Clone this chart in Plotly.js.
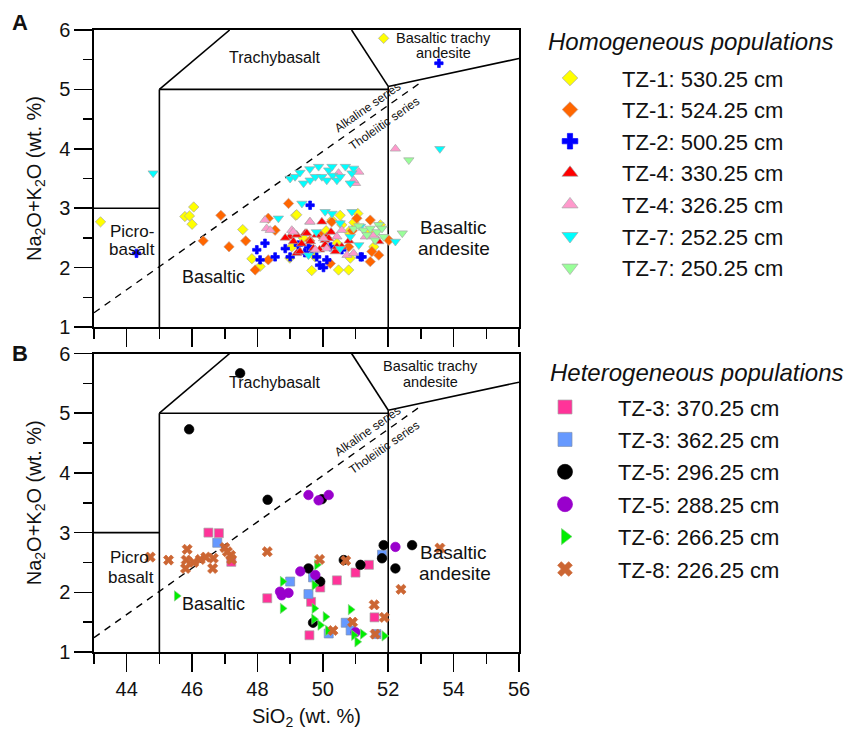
<!DOCTYPE html>
<html><head><meta charset="utf-8">
<script src="https://cdn.plot.ly/plotly-3.0.1.min.js"></script>
<style>html,body{margin:0;padding:0;background:#fff;} #chart{width:860px;height:733px;}</style>
</head><body><div id="chart"></div>
<script>
// ---------- Panel A: homogeneous populations ----------
const homNames = ["TZ-1: 530.25 cm","TZ-1: 524.25 cm","TZ-2: 500.25 cm","TZ-4: 330.25 cm","TZ-4: 326.25 cm","TZ-7: 252.25 cm","TZ-7: 250.25 cm"];
const tz1_530_x = [43.2,45.78,45.92,46.05,46.0,47.55,47.83,48.08,49.17,49.66,48.99,49.76,50.28,50.53,50.58,51.07,50.48,50.79,51.45,51.56,50.79,50.43,51.76,50.84,49.05,51.86,49.2,49.4,50.1,50.95];
const tz1_530_y = [2.77,2.86,2.87,3.02,2.73,2.64,2.15,2.02,2.88,1.95,2.16,2.18,2.80,2.88,2.72,2.91,1.96,1.96,2.60,2.35,2.60,2.41,2.72,2.16,2.35,5.86,2.89,2.50,2.62,2.76];
const tz1_524_x = [46.34,46.88,47.13,47.64,47.93,48.33,48.54,48.33,48.95,50.27,51.45,49.92,50.79,51.5,51.71,51.45,52.02,51.04,50.23,49.6,50.9];
const tz1_524_y = [2.45,2.88,2.35,2.45,1.96,2.83,2.63,2.13,3.08,2.77,2.80,2.55,2.35,2.27,2.21,2.10,2.46,2.83,2.07,2.45,2.62];
const tz2_500_x = [44.3,53.55,49.61,48.23,47.98,48.08,48.54,48.85,49.25,50.02,49.66,49.81,50.23,50.12,50.58,51.15,49.56,49.9,51.2,49.0,49.45];
const tz2_500_y = [2.24,5.44,3.05,2.41,2.30,2.13,2.18,2.32,2.38,2.00,2.30,2.18,2.35,2.13,2.30,2.18,2.35,2.04,2.18,2.18,2.25];
const tz4_330_x = [48.99,49.1,49.2,49.2,49.3,49.46,49.51,49.71,49.81,49.97,50.07,50.07,50.12,50.18,50.38,50.43,50.58,51.71,48.85,49.62,49.35,50.25,50.8,49.9];
const tz4_330_y = [2.52,2.44,2.55,2.24,2.27,2.58,2.58,2.32,2.55,2.77,2.46,2.38,2.52,2.49,2.27,2.35,2.35,2.44,2.50,2.44,2.40,2.60,2.45,2.30];
const tz4_326_x = [52.22,51.0,51.1,50.48,50.94,48.23,48.28,48.39,49.6,49.05,50.58,50.43,50.74,51.56,51.3,50.12,50.02,49.61,50.94,49.77,49.1];
const tz4_326_y = [4.00,3.42,3.61,3.59,3.47,2.80,2.66,2.63,2.77,2.63,2.63,2.52,2.21,2.55,2.52,2.32,2.49,2.77,2.24,2.30,2.60];
const tz7_252_x = [44.81,49.0,49.15,49.3,49.41,49.61,49.6,49.77,49.87,49.97,50.12,50.18,50.28,50.3,50.43,50.53,50.69,50.84,50.89,50.94,48.64,49.36,50.07,50.28,50.53,50.89,51.15,50.84,51.1,52.22,50.53,49.56,49.8,53.58];
const tz7_252_y = [3.59,3.50,3.53,3.60,3.42,3.47,3.66,3.53,3.70,3.53,3.47,3.64,3.70,3.55,3.47,3.53,3.70,3.42,3.59,3.67,2.83,3.08,2.94,2.91,2.75,2.94,2.69,2.52,2.38,2.44,2.32,2.21,2.60,4.00];
const tz7_250_x = [50.94,51.1,51.25,51.35,51.45,51.6,51.66,51.71,51.81,51.86,52.43,52.63];
const tz7_250_y = [2.66,2.70,2.63,2.55,2.66,2.46,2.60,2.72,2.66,2.52,2.58,3.81];

// ---------- Panel B: heterogeneous populations ----------
const hetNames = ["TZ-3: 370.25 cm","TZ-3: 362.25 cm","TZ-5: 296.25 cm","TZ-5: 288.25 cm","TZ-6: 266.25 cm","TZ-8: 226.25 cm"];
const tz3_370_x = [46.5,46.82,47.2,48.3,49.92,49.64,50.43,51.0,51.41,51.58,49.59];
const tz3_370_y = [3.00,2.99,2.51,1.90,2.08,1.84,2.20,2.33,2.46,1.58,1.28];
const tz3_362_x = [46.77,49.0,49.7,49.56,50.7,50.85,50.18,51.64,51.81];
const tz3_362_y = [2.83,2.18,2.25,1.97,1.49,1.36,1.31,1.30,2.63];
const tz5_296_x = [47.47,45.91,48.31,49.97,51.86,52.73,52.22,51.81,51.15,50.64,49.56,49.92,49.7];
const tz5_296_y = [5.67,4.73,3.55,3.56,2.79,2.79,2.40,2.57,2.46,2.54,2.40,2.18,1.49];
const tz5_288_x = [49.56,49.87,50.18,52.22,49.31,48.69,48.74,48.95,49.77,51.0];
const tz5_288_y = [3.63,3.54,3.63,2.76,2.35,2.01,1.95,1.99,2.29,1.33];
const tz6_266_x = [45.53,48.77,48.77,49.82,49.74,49.74,49.73,50.08,49.92,50.15,50.85,50.95,51.05,51.22,51.88];
const tz6_266_y = [1.94,2.18,1.73,2.46,2.12,1.73,1.55,1.59,1.45,1.36,1.71,1.28,1.17,1.30,1.27];
const tz8_226_x = [44.72,45.28,45.85,45.82,45.8,46.05,46.25,46.42,46.65,46.63,47.0,47.08,47.18,47.21,48.3,49.9,50.7,51.57,51.88,50.91,50.31,51.6,53.58,52.39];
const tz8_226_y = [2.59,2.54,2.72,2.54,2.40,2.50,2.55,2.59,2.57,2.40,2.75,2.68,2.62,2.55,2.68,2.55,2.53,1.79,1.58,1.50,1.36,1.30,2.74,2.05];

// ---------- TAS field boundaries (SiO2, Na2O+K2O) ----------
const fieldLines = [
  {x:[43,45], y:[3,3]},
  {x:[45,45], y:[1,5]},
  {x:[45,52], y:[5,5]},
  {x:[45,47.15], y:[5,6]},
  {x:[50.88,52], y:[6,5.05]},
  {x:[52,52], y:[1,5.05]},
  {x:[52,56], y:[5.05,5.52]}
];
const seriesDivide = {x:[43,52.95], y:[1.24,5.1]};

// field labels: [text, x, y, size] for A and B
const fieldLabelsA = [
  ["Trachybasalt",48.54,5.53,16],["Basaltic trachy",53.68,5.87,14.5],["andesite",53.68,5.61,14.5],
  ["Basaltic",54.0,2.67,19],["andesite",54.0,2.33,19],["Picro-",44.16,2.6,17],["basalt",44.16,2.3,17],
  ["Basaltic",46.64,1.84,18]
];
const fieldLabelsB = [
  ["Trachybasalt",48.54,5.51,16],["Basaltic trachy",53.3,5.79,14.5],["andesite",53.28,5.52,14.5],
  ["Basaltic",54.0,2.66,19],["andesite",54.05,2.32,19],["Picro",44.08,2.58,17],["basalt",44.13,2.25,17],
  ["Basaltic",46.67,1.80,18]
];
const seriesLabels = [["Alkaline series",51.38,4.70],["Tholeiitic series",51.9,4.43]];

const homStyles = [
  {symbol:'diamond', color:'#FFFF00', line:'#A8A8A8'},
  {symbol:'diamond', color:'#FF6600', line:'#C8A090'},
  {symbol:'cross', color:'#0000FF', line:'#0000FF'},
  {symbol:'triangle-up', color:'#FF0000', line:'#A8A8A8'},
  {symbol:'triangle-up', color:'#FF99CC', line:'#A8A8A8'},
  {symbol:'triangle-down', color:'#00FFFF', line:'#A8A8A8'},
  {symbol:'triangle-down', color:'#99FF99', line:'#A8A8A8'}
];
const hetStyles = [
  {symbol:'square', color:'#FF3399', line:'#A8A8A8'},
  {symbol:'square', color:'#6699FF', line:'#8090B0'},
  {symbol:'circle', color:'#000000', line:'#000000'},
  {symbol:'circle', color:'#9900CC', line:'#9900CC'},
  {symbol:'triangle-right', color:'#00EE00', line:'#80D080'},
  {symbol:'x', color:'#CC6633', line:'#CC6633'}
];
const homX=[tz1_530_x,tz1_524_x,tz2_500_x,tz4_330_x,tz4_326_x,tz7_252_x,tz7_250_x];
const homY=[tz1_530_y,tz1_524_y,tz2_500_y,tz4_330_y,tz4_326_y,tz7_252_y,tz7_250_y];
const hetX=[tz3_370_x,tz3_362_x,tz5_296_x,tz5_288_x,tz6_266_x,tz8_226_x];
const hetY=[tz3_370_y,tz3_362_y,tz5_296_y,tz5_288_y,tz6_266_y,tz8_226_y];

const homSize = [8,8,7,9,9,9,9], homLegSize=[12,12,13,14,14,14,14];
const hetSize = [9,9,9.5,9.5,9,9], hetLegSize=[14,14,15,15,14,13];

const traces = [];
[['x','y'],['x2','y2']].forEach(([xa,ya])=>{
  fieldLines.forEach(l=>traces.push({x:l.x,y:l.y,xaxis:xa,yaxis:ya,mode:'lines',line:{color:'#000',width:1.6},showlegend:false,hoverinfo:'skip'}));
  traces.push({x:seriesDivide.x,y:seriesDivide.y,xaxis:xa,yaxis:ya,mode:'lines',line:{color:'#000',width:1.4,dash:'7px,6px'},showlegend:false,hoverinfo:'skip'});
});
homNames.forEach((n,i)=>{
  const s=homStyles[i];
  traces.push({x:homX[i],y:homY[i],xaxis:'x',yaxis:'y',mode:'markers',name:n,showlegend:false,
    marker:{symbol:s.symbol,color:s.color,size:homSize[i],line:{color:s.line,width:0.7}}});
});
hetNames.forEach((n,i)=>{
  const s=hetStyles[i];
  traces.push({x:hetX[i],y:hetY[i],xaxis:'x2',yaxis:'y2',mode:'markers',name:n,showlegend:false,
    marker:{symbol:s.symbol,color:s.color,size:hetSize[i],line:{color:s.line,width:0.7}}});
});
// legend entries
homNames.forEach((n,i)=>{
  const s=homStyles[i];
  traces.push({x:[null],y:[null],xaxis:'x',yaxis:'y',mode:'markers',name:n,legend:'legend',legendgroup:'h'+i,
    marker:{symbol:s.symbol,color:s.color,size:homLegSize[i],line:{color:s.line,width:0.7}}});
});
hetNames.forEach((n,i)=>{
  const s=hetStyles[i];
  traces.push({x:[null],y:[null],xaxis:'x2',yaxis:'y2',mode:'markers',name:n,legend:'legend2',legendgroup:'g'+i,
    marker:{symbol:s.symbol,color:s.color,size:hetLegSize[i],line:{color:s.line,width:0.7}}});
});

const FONT = 'Arial, "Liberation Sans", sans-serif';
const annotations = [];
function addLabels(list, xr, yr){
  list.forEach(([t,x,y,sz])=>annotations.push({text:t,x:x,y:y,xref:xr,yref:yr,showarrow:false,font:{size:sz,color:'#111'}}));
  seriesLabels.forEach(([t,x,y])=>annotations.push({text:t,x:x,y:y,xref:xr,yref:yr,showarrow:false,textangle:-35,font:{size:12,color:'#111'}}));
}
addLabels(fieldLabelsA,'x','y');
addLabels(fieldLabelsB,'x2','y2');
annotations.push({text:'<b>A</b>',x:20/860,y:1-22/733,xref:'paper',yref:'paper',xanchor:'center',yanchor:'middle',showarrow:false,font:{size:22}});
annotations.push({text:'<b>B</b>',x:20/860,y:1-353/733,xref:'paper',yref:'paper',xanchor:'center',yanchor:'middle',showarrow:false,font:{size:22}});
annotations.push({text:'<i>Homogeneous populations</i>',x:546/860,y:1-42/733,xref:'paper',yref:'paper',xanchor:'left',yanchor:'middle',showarrow:false,font:{size:24}});
annotations.push({text:'<i>Heterogeneous populations</i>',x:548/860,y:1-372/733,xref:'paper',yref:'paper',xanchor:'left',yanchor:'middle',showarrow:false,font:{size:24}});

const xBase = {range:[43,56],showline:true,mirror:true,linecolor:'#000',linewidth:1.6,ticks:'outside',ticklen:18,tickwidth:1.5,tickcolor:'#000',
  tick0:44,dtick:2,showgrid:false,zeroline:false,tickfont:{size:20},
  minor:{dtick:1,tick0:43,ticks:'outside',ticklen:10,tickwidth:1.5,tickcolor:'#000',showgrid:false}};
const yBase = {range:[1,6],showline:true,mirror:true,linecolor:'#000',linewidth:1.6,ticks:'outside',ticklen:18,tickwidth:1.5,tickcolor:'#000',
  dtick:1,showgrid:false,zeroline:false,tickfont:{size:20},
  minor:{dtick:0.5,ticks:'outside',ticklen:9,tickwidth:1.5,tickcolor:'#000',showgrid:false},
  title:{text:'Na<sub>2</sub>O+K<sub>2</sub>O (wt. %)',font:{size:20},standoff:12}};
const xd=[94/860,519/860];
const layout = {
  width:860,height:733,margin:{l:0,r:0,t:0,b:0},paper_bgcolor:'#fff',plot_bgcolor:'#fff',
  font:{family:FONT,color:'#111'},
  xaxis:Object.assign({},xBase,{domain:xd,anchor:'y',showticklabels:false}),
  yaxis:Object.assign({},yBase,{domain:[1-327/733,1-30/733],anchor:'x'}),
  xaxis2:Object.assign({},xBase,{domain:xd,anchor:'y2',title:{text:'SiO<sub>2</sub> (wt. %)',font:{size:20},standoff:10}}),
  yaxis2:Object.assign({},yBase,{domain:[1-652/733,1-353.5/733],anchor:'x2'}),
  legend:{x:518/860,y:1-57.2/733,xanchor:'left',yanchor:'top',itemwidth:94,font:{size:22},tracegroupgap:0,bgcolor:'rgba(0,0,0,0)',traceorder:'grouped'},
  legend2:{x:512/860,y:1-386.2/733,xanchor:'left',yanchor:'top',itemwidth:96,font:{size:22},tracegroupgap:0.8,bgcolor:'rgba(0,0,0,0)',traceorder:'grouped'},
  annotations:annotations,
  showlegend:true
};
Plotly.newPlot('chart',traces,layout,{displayModeBar:false,staticPlot:true});
</script></body></html>
